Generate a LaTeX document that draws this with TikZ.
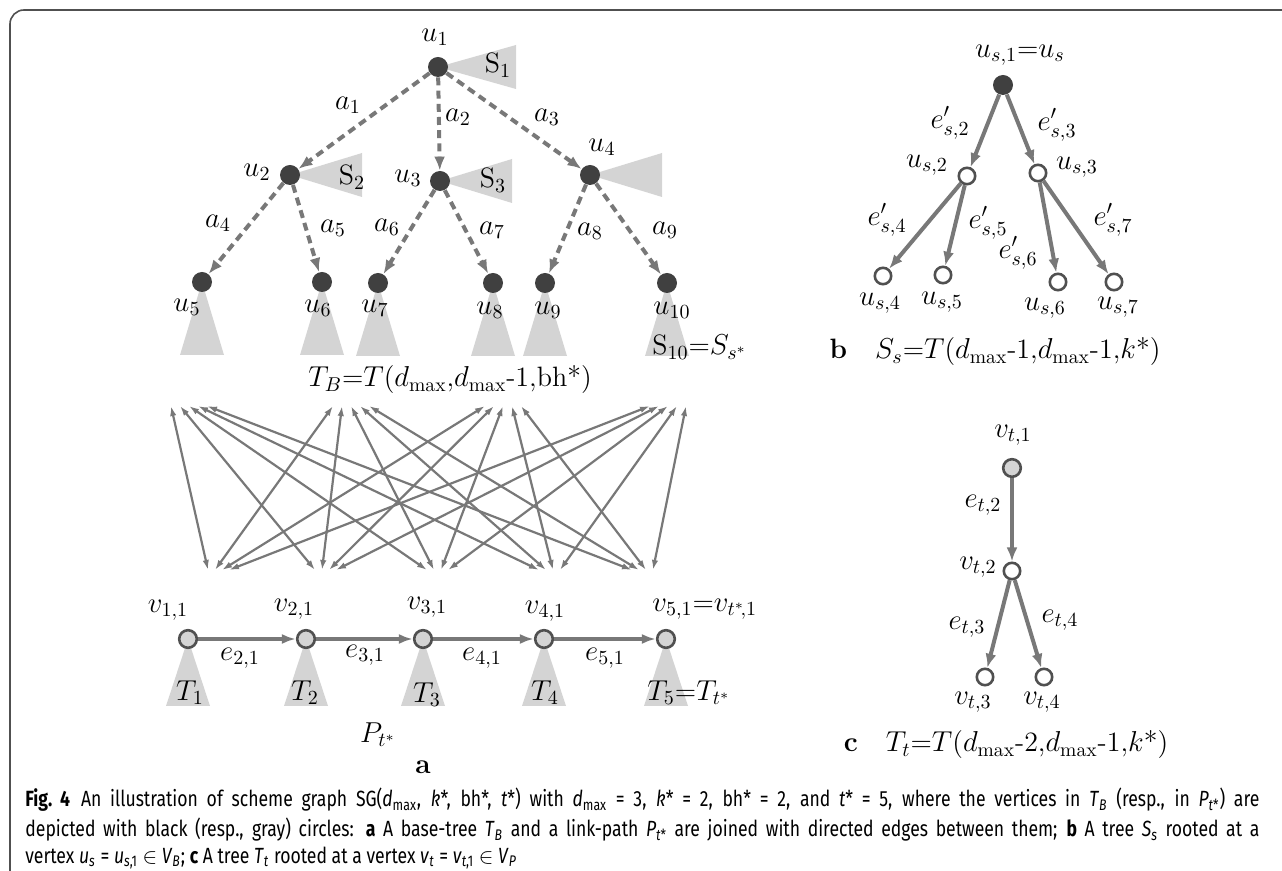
\documentclass[tikz,border=0pt]{standalone}
\usepackage{fontspec}
\newfontfamily\capfont[FakeStretch=0.80]{Fira Sans}
\usetikzlibrary{arrows.meta,backgrounds}
\definecolor{nodedark}{HTML}{404040}
\definecolor{edgegray}{HTML}{787878}
\definecolor{treegray}{HTML}{D4D4D4}
\definecolor{rimgray}{HTML}{505050}
\newcommand{\capsub}[2]{\textit{#1}\textsubscript{#2}}
\begin{document}
\begin{tikzpicture}[x=0.5pt, y=-0.5pt,
  lbl/.style={inner sep=0pt, font=\fontsize{14}{16}\selectfont},
  capline/.style={inner sep=0pt, anchor=west, font=\capfont\fontsize{11}{13}\selectfont},
  bdot/.style={circle, fill=nodedark, inner sep=0pt, minimum size=10pt},
  gdot/.style={circle, fill=treegray, draw=rimgray, line width=1.3pt, inner sep=0pt, minimum size=8.8pt},
  wdot/.style={circle, fill=white, draw=rimgray, line width=1.3pt, inner sep=0pt, minimum size=8.2pt},
  subtree/.style={fill=treegray},
  tedge/.style={draw=edgegray, line width=2pt, dash pattern=on 4pt off 2.6pt, -{Latex[length=7pt,width=5.5pt]}},
  sedge/.style={draw=edgegray, line width=2pt, -{Latex[length=7pt,width=5.5pt]}},
  pedge/.style={draw=edgegray, line width=1.7pt, -{Latex[length=7pt,width=5pt]}},
  ledge/.style={draw=edgegray, line width=1.1pt, {Latex[length=5pt,width=3.2pt]}-{Latex[length=5pt,width=3.2pt]}}]
  \useasboundingbox (0,0) rectangle (1282,871);

  % frame of the figure
  \draw[rimgray, line width=0.8pt, rounded corners=7pt] (10,871) -- (10,10) -- (1282,10);

  % (a) base-tree T_B
  \node[bdot] (u1) at (438,67) {};
  \node[bdot] (u2) at (290,175) {};
  \node[bdot] (u3) at (440,181) {};
  \node[bdot] (u4) at (590,175) {};
  \foreach \k/\x/\y in {5/202/282, 6/322/282, 7/378/283, 8/493/283, 9/545/283, 10/667/283}
    \node[bdot] (u\k) at (\x,\y) {};
  \node[lbl] (lu1) at (435,37) {$u_1$};
  \node[lbl] (lu2) at (257,172) {$u_2$};
  \node[lbl] (lu3) at (408,178) {$u_3$};
  \node[lbl] (lu4) at (602,147) {$u_4$};
  \foreach \k/\x/\y in {5/187/307, 6/318/308, 7/375/308, 8/490/310, 9/548/310, 10/672/310}
    \node[lbl] (lu\k) at (\x,\y) {$u_{\k}$};
  \node[lbl] (ls1) at (498,65) {S$_1$};
  \node[lbl] (ls2) at (352,177) {S$_2$};
  \node[lbl] (ls3) at (493,180) {S$_3$};
  \node[lbl, anchor=west] (ls10) at (652,347) {S$_{10}$=$S_{s^*}$};

  \draw[tedge] (u1) -- (u2);
  \draw[tedge] (u1) -- (u3);
  \draw[tedge] (u1) -- (u4);
  \draw[tedge] (u2) -- (u5);
  \draw[tedge] (u2) -- (u6);
  \draw[tedge] (u3) -- (u7);
  \draw[tedge] (u3) -- (u8);
  \draw[tedge] (u4) -- (u9);
  \draw[tedge] (u4) -- (u10);
  \foreach \k/\p in {1/{(348,105)}, 2/{(458,117)}, 3/{(547,117)}, 4/{(218,223)}, 5/{(333,228)},
                     6/{(387,227)}, 7/{(492,230)}, 8/{(590,231)}, 9/{(665,230)}}
    \node[lbl] (a\k) at \p {$a_{\k}$};
  \node[lbl] (tb) at (450,380) {$T_B$=$T$($d_{\max}$,$d_{\max}$-1,bh*)};

  % subtrees hanging at T_B
  \begin{pgfonlayer}{background}
    \fill[subtree] (u1.center) -- ++(78,-22) -- ++(0,44) -- cycle;
    \foreach \k in {2,3,4}
      \fill[subtree] (u\k.center) -- ++(72,-22) -- ++(0,44) -- cycle;
    \foreach \k in {5,...,10}
      \fill[subtree] (u\k.center) -- ++(-22,73) -- ++(44,0) -- cycle;
  \end{pgfonlayer}

  % (a) link-path P_t*
  \foreach \k/\x in {1/188, 2/306, 3/423, 4/544, 5/666}
    \node[gdot] (v\k) at (\x,639) {};
  \node[lbl] (lv1) at (168,610) {$v_{1,1}$};
  \node[lbl] (lv2) at (294,609) {$v_{2,1}$};
  \node[lbl] (lv3) at (427,607) {$v_{3,1}$};
  \node[lbl] (lv4) at (545,611) {$v_{4,1}$};
  \node[lbl, anchor=west] (lv5) at (652,609) {$v_{5,1}$=$v_{t^*\!,1}$};
  \draw[pedge] (v1) -- (v2);
  \draw[pedge] (v2) -- (v3);
  \draw[pedge] (v3) -- (v4);
  \draw[pedge] (v4) -- (v5);
  \node[lbl] (e2) at (240,658) {$e_{2,1}$};
  \node[lbl] (e3) at (365,655) {$e_{3,1}$};
  \node[lbl] (e4) at (482,658) {$e_{4,1}$};
  \node[lbl] (e5) at (605,658) {$e_{5,1}$};
  \begin{pgfonlayer}{background}
    \foreach \k in {1,...,5}
      \fill[subtree] (v\k.center) -- ++(-22,67) -- ++(44,0) -- cycle;
  \end{pgfonlayer}
  \node[lbl] (lt1) at (190,693) {$T_1$};
  \node[lbl] (lt2) at (305,693) {$T_2$};
  \node[lbl] (lt3) at (427,695) {$T_3$};
  \node[lbl] (lt4) at (545,693) {$T_4$};
  \node[lbl, anchor=west] (lt5) at (647,693) {$T_5$=$T_{t^*}$};
  \node[lbl] (pt) at (378,735) {$P_{t^*}$};
  \node[lbl] (capa) at (423,767) {\textbf{a}};

  % directed edges between T_B and P_t*
  \foreach \tx [count=\i] in {171,333,485,650}
    \foreach \bx [count=\j] in {208,315,427,539,632} {
      \coordinate (t\i-\j) at (\tx+9*\j-9,406);
      \coordinate (b\j-\i) at (\bx+7*\i-7,570);
      \draw[ledge] (t\i-\j) -- (b\j-\i);
    }

  % (b) tree S_s
  \node[bdot] (us1) at (1003,85) {};
  \node[wdot] (us2) at (967,176) {};
  \node[wdot] (us3) at (1038,173) {};
  \node[wdot] (us4) at (883,276) {};
  \node[wdot] (us5) at (943,275) {};
  \node[wdot] (us6) at (1058,282) {};
  \node[wdot] (us7) at (1114,282) {};
  \draw[sedge] (us1) -- (us2);
  \draw[sedge] (us1) -- (us3);
  \draw[sedge] (us2) -- (us4);
  \draw[sedge] (us2) -- (us5);
  \draw[sedge] (us3) -- (us6);
  \draw[sedge] (us3) -- (us7);
  \node[lbl] (lus1) at (1020,55) {$u_{s,1}$=$u_s$};
  \node[lbl] (lus2) at (927,165) {$u_{s,2}$};
  \node[lbl] (lus3) at (1077,167) {$u_{s,3}$};
  \node[lbl] (lus4) at (880,303) {$u_{s,4}$};
  \node[lbl] (lus5) at (942,302) {$u_{s,5}$};
  \node[lbl] (lus6) at (1045,308) {$u_{s,6}$};
  \node[lbl] (lus7) at (1118,307) {$u_{s,7}$};
  \node[lbl] (es2) at (950,123) {$e'_{s,2}$};
  \node[lbl] (es3) at (1057,125) {$e'_{s,3}$};
  \node[lbl] (es4) at (887,220) {$e'_{s,4}$};
  \node[lbl] (es5) at (988,223) {$e'_{s,5}$};
  \node[lbl] (es6) at (1018,253) {$e'_{s,6}$};
  \node[lbl] (es7) at (1113,220) {$e'_{s,7}$};
  \node[lbl] (capb) at (995,352) {\textbf{b}\quad$S_s$=$T$($d_{\max}$-1,$d_{\max}$-1,$k$*)};

  % (c) tree T_t
  \node[gdot] (vt1) at (1012,468) {};
  \node[wdot] (vt2) at (1012,571) {};
  \node[wdot] (vt3) at (985,677) {};
  \node[wdot] (vt4) at (1044,677) {};
  \draw[sedge] (vt1) -- (vt2);
  \draw[sedge] (vt2) -- (vt3);
  \draw[sedge] (vt2) -- (vt4);
  \node[lbl] (lvt1) at (1013,435) {$v_{t,1}$};
  \node[lbl] (lvt2) at (978,567) {$v_{t,2}$};
  \node[lbl] (lvt3) at (973,702) {$v_{t,3}$};
  \node[lbl] (lvt4) at (1042,702) {$v_{t,4}$};
  \node[lbl] (et2) at (983,505) {$e_{t,2}$};
  \node[lbl] (et3) at (967,627) {$e_{t,3}$};
  \node[lbl] (et4) at (1060,620) {$e_{t,4}$};
  \node[lbl] (capc) at (1006,745) {\textbf{c}\quad$T_t$=$T$($d_{\max}$-2,$d_{\max}$-1,$k$*)};

  % caption
  \node[capline] (cap1) at (25,800) {\makebox[617pt][s]{{\bfseries Fig.~4}\enspace An illustration of scheme graph SG(\capsub{d}{max}, \textit{k}*, bh*, \textit{t}*) with \capsub{d}{max} = 3, \textit{k}* = 2, bh* = 2, and \textit{t}* = 5, where the vertices in \capsub{T}{\textit{B}} (resp., in \capsub{P}{\textit{t}*}) are}};
  \node[capline] (cap2) at (25,830) {\makebox[617pt][s]{depicted with black (resp., gray) circles: {\bfseries a} A base-tree \capsub{T}{\textit{B}} and a link-path \capsub{P}{\textit{t}*} are joined with directed edges between them; {\bfseries b} A tree \capsub{S}{\textit{s}} rooted at a}};
  \node[capline] (cap3) at (25,858) {vertex \capsub{u}{\textit{s}} = \capsub{u}{\textit{s},1} $\in$ \capsub{V}{\textit{B}}; {\bfseries c} A tree \capsub{T}{\textit{t}} rooted at a vertex \capsub{v}{\textit{t}} = \capsub{v}{\textit{t},1} $\in$ \capsub{V}{\textit{P}}};
\end{tikzpicture}
\end{document}
